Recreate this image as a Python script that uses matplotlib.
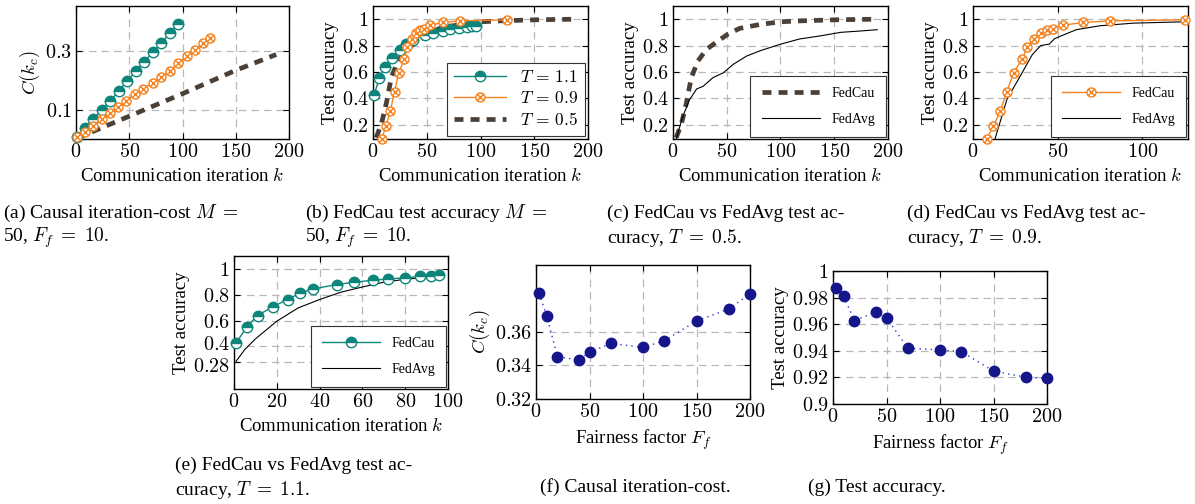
import matplotlib
matplotlib.use("Agg")
import matplotlib.pyplot as plt
from matplotlib.path import Path
from matplotlib.ticker import FuncFormatter
from matplotlib.transforms import ScaledTranslation
import numpy as np

plt.rcParams['font.family'] = ['Liberation Serif', 'DejaVu Serif']
plt.rcParams['mathtext.fontset'] = 'cm'

# ---------------- data ----------------
# (a) causal iteration-cost vs communication iteration
k_cost_11 = [1, 8, 16, 24, 32, 40, 48, 56, 64, 72, 80, 88, 96]
cost_11 = [0.006, 0.037, 0.068, 0.100, 0.130, 0.164, 0.198, 0.232, 0.264, 0.297, 0.328, 0.362, 0.394]
k_cost_09 = [1, 8, 16, 24, 32, 39, 47, 55, 63, 72, 80, 88, 96, 104, 112, 119, 126]
cost_09 = [0.006, 0.023, 0.046, 0.068, 0.089, 0.108, 0.131, 0.153, 0.172, 0.193, 0.213,
           0.232, 0.260, 0.283, 0.306, 0.328, 0.345]
k_cost_05 = [1, 50, 100, 150, 188]
cost_05 = [0.003, 0.078, 0.155, 0.235, 0.289]

# FedCau accuracy for the three T values
k_acc_11 = [1, 6, 11, 18, 25, 31, 37, 48, 56, 65, 72, 80, 87, 92, 96]
acc_11 = [0.427, 0.551, 0.639, 0.706, 0.763, 0.814, 0.845, 0.879, 0.897, 0.912, 0.923,
          0.930, 0.943, 0.948, 0.951]
k_acc_09 = [8, 12, 16, 20, 24, 29, 32, 36, 40, 44, 47, 53, 65, 81, 125]
acc_09 = [0.09, 0.187, 0.30, 0.449, 0.594, 0.695, 0.789, 0.853, 0.893, 0.919, 0.929,
          0.954, 0.975, 0.987, 0.995]
k_acc_05 = [3, 8, 12.5, 17, 23, 31, 42, 51, 62, 81, 100, 118, 150, 190]
acc_05 = [0.10, 0.21, 0.365, 0.555, 0.68, 0.77, 0.835, 0.886, 0.93, 0.96, 0.98, 0.987, 0.995, 1.0]

# FedAvg accuracy
k_avg_05 = [3, 9, 15.5, 22, 28, 37, 47, 56, 68.5, 81, 100, 118, 137, 156, 174, 190]
avg_05 = [0.09, 0.26, 0.39, 0.47, 0.49, 0.555, 0.594, 0.657, 0.72, 0.76, 0.81, 0.85,
          0.873, 0.90, 0.91, 0.92]
k_avg_09 = [13, 20, 28, 35, 40, 45, 48, 51.5, 61, 75, 95, 125]
avg_09 = [0.09, 0.39, 0.57, 0.73, 0.80, 0.81, 0.85, 0.87, 0.92, 0.95, 0.97, 0.98]
k_avg_11 = [1, 5, 10, 20, 30, 40, 50, 60, 70, 80, 90, 96]
avg_11 = [0.285, 0.375, 0.458, 0.595, 0.698, 0.763, 0.82, 0.86, 0.897, 0.92, 0.935, 0.943]

# (f),(g) fairness factor
fairness = [3, 10, 20, 40, 50, 70, 100, 120, 150, 180, 200]
cost_fair = [0.3831, 0.3696, 0.3453, 0.3433, 0.3479, 0.3532, 0.3508, 0.3548, 0.3666, 0.3737, 0.3827]
acc_fair = [0.9873, 0.9811, 0.9626, 0.9693, 0.9648, 0.9419, 0.9406, 0.9394, 0.9247, 0.9202, 0.9192]

captions = [
    (3, 213, "(a) Causal iteration-cost $M\\;=$"), (3, 238, "50, $F_f\\;=\\;10$."),
    (305, 213, "(b) FedCau test accuracy $M\\;=$"), (305, 238, "50, $F_f\\;=\\;10$."),
    (607, 213, "(c) FedCau vs FedAvg test ac-"), (607, 238, "curacy, $T\\;=\\;0.5$."),
    (907, 213, "(d) FedCau vs FedAvg test ac-"), (907, 238, "curacy, $T\\;=\\;0.9$."),
    (175, 465, "(e) FedCau vs FedAvg test ac-"), (175, 490, "curacy, $T\\;=\\;1.1$."),
    (540, 487, "(f) Causal iteration-cost."),
    (808, 487, "(g) Test accuracy."),
]

# ---------------- style ----------------
TEAL = '#0e857b'
ORANGE = '#f5821f'
DARK = '#4a4037'
NAVY = '#16168c'

W, H = 1195, 504
fig = plt.figure(figsize=(W / 100, H / 100), dpi=100)


def make_ax(l, r, t, b):
    return fig.add_axes([l / W, 1 - b / H, (r - l) / W, (b - t) / H])


# otimes marker
circ = Path.unit_circle()
xp = Path([(-0.707, -0.707), (0.707, 0.707), (-0.707, 0.707), (0.707, -0.707)],
          [Path.MOVETO, Path.LINETO, Path.MOVETO, Path.LINETO])
OTIMES = Path.make_compound_path(circ, xp)

mathfmt = FuncFormatter(lambda v, p: f'${v:g}$')
LABFS = 13.5
TICKFS = 14.5


def style(ax, xticks, yticks, xlim, ylim, ylabel):
    ax.set_xlim(*xlim)
    ax.set_ylim(*ylim)
    ax.set_xticks(xticks)
    ax.set_yticks(yticks)
    ax.xaxis.set_major_formatter(mathfmt)
    ax.yaxis.set_major_formatter(mathfmt)
    ax.tick_params(direction='in', top=True, right=True, labelsize=TICKFS, length=4, width=0.8,
                   pad=3)
    ax.grid(True, color='#b8b8b8', linestyle=(0, (6, 4)), linewidth=0.9)
    ax.set_axisbelow(True)
    ax.set_ylabel(ylabel, fontsize=LABFS, labelpad=2)
    for s in ax.spines.values():
        s.set_linewidth(1.0)


def plot_11(ax, k, y):
    return ax.plot(k, y, color=TEAL, lw=1.0, marker='o', ms=7.5, fillstyle='top',
                   markerfacecolor=TEAL, markerfacecoloralt='white', markeredgecolor=TEAL,
                   markeredgewidth=1.0, clip_on=False, zorder=4)[0]


def plot_09(ax, k, y):
    return ax.plot(k, y, color=ORANGE, lw=1.0, marker=OTIMES, ms=6.5, markerfacecolor='white',
                   markeredgecolor=ORANGE, markeredgewidth=1.0, clip_on=False, zorder=4)[0]


def plot_05(ax, k, y):
    return ax.plot(k, y, color=DARK, lw=3.4, dashes=(1.9, 1.5), solid_capstyle='butt',
                   dash_capstyle='butt', zorder=3)[0]


def plot_avg(ax, k, y):
    return ax.plot(k, y, color='black', lw=0.8, zorder=3)[0]


def small_legend(ax, handles):
    leg = ax.legend(handles, ['FedCau', 'FedAvg'], loc='lower right', fontsize=10,
                    handlelength=4.2, borderaxespad=0.15, fancybox=False, edgecolor='#333333',
                    framealpha=1, borderpad=0.8, labelspacing=0.9)
    leg.get_frame().set_linewidth(0.8)


# (a)
ax = make_ax(76, 289, 6, 139)
plot_11(ax, k_cost_11, cost_11)
plot_09(ax, k_cost_09, cost_09)
plot_05(ax, k_cost_05, cost_05)
style(ax, [0, 50, 100, 150, 200], [0.1, 0.3], (0, 200), (0, 0.455), '$C(k_c)$')
ax.set_xlabel('Communication iteration $k$', fontsize=LABFS)

# (b)
ax = make_ax(373, 588, 6, 139)
h1 = plot_11(ax, k_acc_11, acc_11)
h2 = plot_09(ax, k_acc_09, acc_09)
h3 = plot_05(ax, k_acc_05, acc_05)
style(ax, [0, 50, 100, 150, 200], [0.2, 0.4, 0.6, 0.8, 1], (0, 200), (0.09, 1.1), 'Test accuracy')
ax.set_xlabel('Communication iteration $k$', fontsize=LABFS)
leg = ax.legend([h1, h2, h3], ['$T\\,=\\,1.1$', '$T\\,=\\,0.9$', '$T\\,=\\,0.5$'],
                loc='lower right', fontsize=12.5, handlelength=3.0, borderaxespad=0.15,
                fancybox=False, edgecolor='#333333', framealpha=1, labelspacing=0.3)
leg.get_frame().set_linewidth(0.8)

# (c)
ax = make_ax(673, 888, 6, 139)
h1 = plot_05(ax, k_acc_05, acc_05)
h2 = plot_avg(ax, k_avg_05, avg_05)
style(ax, [0, 50, 100, 150, 200], [0.2, 0.4, 0.6, 0.8, 1], (0, 200), (0.09, 1.1), 'Test accuracy')
ax.set_xlabel('Communication iteration $k$', fontsize=LABFS)
small_legend(ax, [h1, h2])

# (d)
ax = make_ax(973, 1188, 6, 139)
h1 = plot_09(ax, k_acc_09, acc_09)
h2 = plot_avg(ax, k_avg_09, avg_09)
style(ax, [0, 50, 100], [0.2, 0.4, 0.6, 0.8, 1], (0, 127), (0.09, 1.1), 'Test accuracy')
ax.set_xlabel('Communication iteration $k$', fontsize=LABFS)
small_legend(ax, [h1, h2])

# (e)
ax = make_ax(234, 448, 256, 389)
h1 = plot_11(ax, k_acc_11, acc_11)
h2 = plot_avg(ax, k_avg_11, avg_11)
style(ax, [0, 20, 40, 60, 80, 100], [0.28, 0.4, 0.6, 0.8, 1], (0, 100), (0.07, 1.1), 'Test accuracy')
ax.set_xlabel('Communication iteration $k$', fontsize=LABFS)
small_legend(ax, [h1, h2])
fig.canvas.draw()
ylabs = ax.get_yticklabels()
ylabs[0].set_transform(ylabs[0].get_transform() + ScaledTranslation(0, -2.5 / 72, fig.dpi_scale_trans))
ylabs[1].set_transform(ylabs[1].get_transform() + ScaledTranslation(0, 2.5 / 72, fig.dpi_scale_trans))

# (f)
ax = make_ax(536, 750, 265, 399)
ax.plot(fairness, cost_fair, color='#3434d0', lw=1.0, linestyle=(0, (1, 3)), marker='o', ms=7.5,
        markerfacecolor=NAVY, markeredgecolor=NAVY, clip_on=False, zorder=4)
style(ax, [0, 50, 100, 150, 200], [0.32, 0.34, 0.36], (0, 200), (0.32, 0.40), '$C(k_c)$')
ax.set_xlabel('Fairness factor $F_f$', fontsize=LABFS)

# (g)
ax = make_ax(833, 1047, 271, 404)
ax.plot(fairness, acc_fair, color='#3434d0', lw=1.0, linestyle=(0, (1, 3)), marker='o', ms=7.5,
        markerfacecolor=NAVY, markeredgecolor=NAVY, clip_on=False, zorder=4)
style(ax, [0, 50, 100, 150, 200], [0.9, 0.92, 0.94, 0.96, 0.98, 1.0], (0, 200), (0.9, 1.0),
      'Test accuracy')
ax.yaxis.set_major_formatter(FuncFormatter(lambda v, p: f'${v:.2f}$'.replace('1.00', '1').replace('0.90', '0.9')))
ax.set_xlabel('Fairness factor $F_f$', fontsize=LABFS)

for x, y, s in captions:
    fig.text(x / W, 1 - y / H, s, fontsize=14, ha='left', va='center')

fig.savefig('out.png', dpi=100)
